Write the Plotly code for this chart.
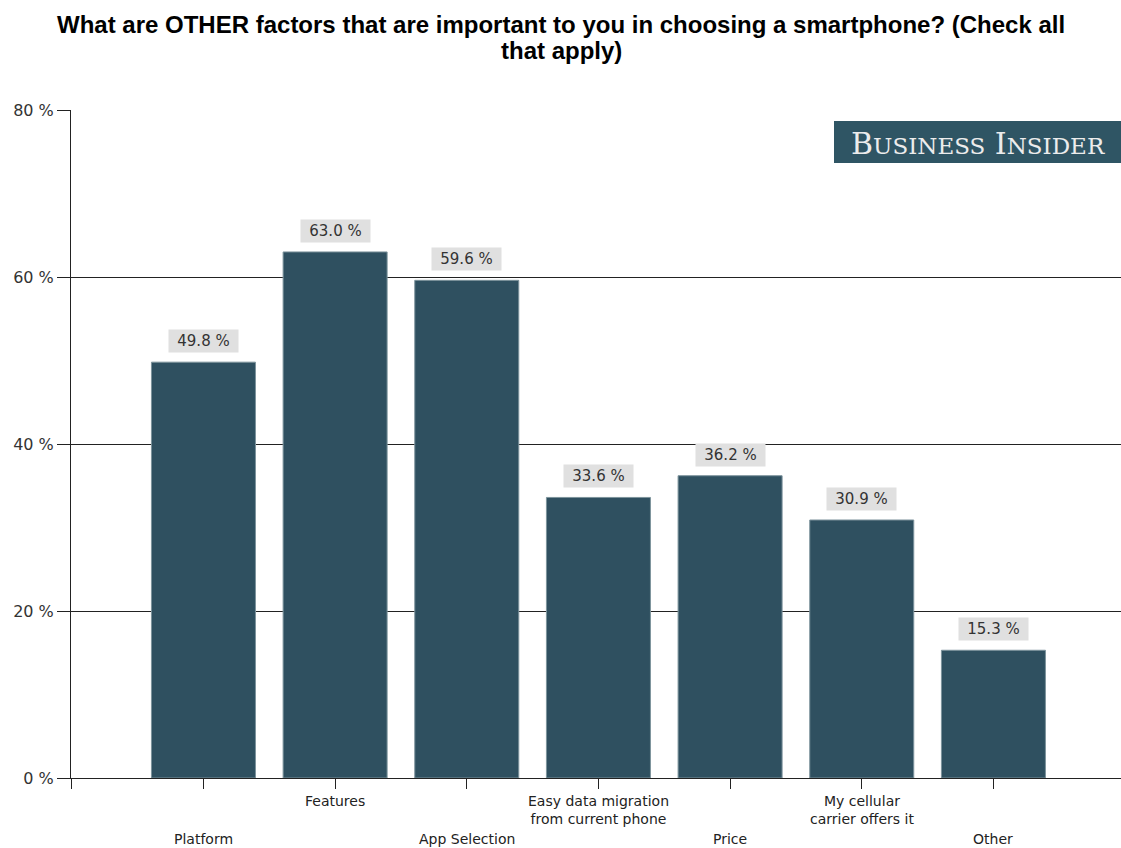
import plotly.graph_objects as go

categories = ["Platform", "Features", "App Selection",
              "Easy data migration<br>from current phone", "Price",
              "My cellular<br>carrier offers it", "Other"]
values = [49.8, 63.0, 59.6, 33.6, 36.2, 30.9, 15.3]
y_ticks = [0, 20, 40, 60, 80]
y_tick_text = ["0 %", "20 %", "40 %", "60 %", "80 %"]
title_lines = ["What are OTHER factors that are important to you in choosing a smartphone? (Check all",
               "that apply)"]

BAR = "#2f5060"
W, H = 1121, 848
ML, MR, MT, MB = 71, 0, 110, 70
plot_w = W - ML - MR
plot_h = H - MT - MB
x = list(range(len(categories)))


def py(px):
    """Convert a pixel row (from top of page) to paper y."""
    return (H - MB - px) / plot_h


def pxx(px):
    """Convert a pixel column to paper x."""
    return (px - ML) / plot_w


fig = go.Figure()
fig.add_trace(go.Bar(
    x=x, y=values, width=0.79,
    marker=dict(color=BAR, line=dict(color="#7d939c", width=1)),
    hoverinfo="skip",
))

annotations = []
# title, two centred lines
for line, row in zip(title_lines, [24, 50]):
    annotations.append(dict(
        x=pxx(561), y=py(row), xref="paper", yref="paper", text=f"<b>{line}</b>",
        showarrow=False, xanchor="center", yanchor="middle",
        font=dict(family="Liberation Sans, Arial", size=24, color="black"),
    ))
# value labels on grey boxes
for i, v in enumerate(values):
    annotations.append(dict(
        x=i, y=v, xref="x", yref="y", text=f"{v:.1f} %",
        showarrow=False, yanchor="bottom", yshift=9,
        width=69, height=22, borderpad=0,
        bgcolor="#e0e0e0",
        font=dict(family="DejaVu Sans", size=15, color="#333333"),
    ))
# staggered category labels
for i, c in enumerate(categories):
    top_px = 791 if i % 2 else 829
    annotations.append(dict(
        x=i, y=py(top_px), xref="x", yref="paper",
        text=c, showarrow=False, yanchor="top", align="center",
        font=dict(family="DejaVu Sans", size=14, color="#222222"),
    ))
# logo
annotations.append(dict(
    x=pxx(978), y=py(143), xref="paper", yref="paper",
    text="B<span style='font-size:23px'>USINESS</span> I<span style='font-size:23px'>NSIDER</span>",
    showarrow=False, xanchor="center", yanchor="middle",
    font=dict(family="DejaVu Serif, Liberation Serif", size=30, color="#ececec"),
))

fig.update_layout(
    width=W, height=H,
    margin=dict(l=ML, r=MR, t=MT, b=MB),
    paper_bgcolor="white", plot_bgcolor="white",
    showlegend=False,
    xaxis=dict(
        range=[-1.006, 6.969], tickvals=[-1.006] + x, ticktext=[""] * 8,
        showgrid=False, zeroline=False, showline=True, linecolor="#222222", linewidth=1,
        ticks="outside", ticklen=10, tickcolor="#222222",
        fixedrange=True,
    ),
    yaxis=dict(
        range=[0, 80], tickvals=y_ticks, ticktext=y_tick_text,
        showgrid=True, gridcolor="#222222", gridwidth=1,
        zeroline=False, showline=True, linecolor="#222222", linewidth=1,
        ticks="outside", ticklen=13, tickcolor="#222222",
        tickfont=dict(family="DejaVu Sans", size=16, color="#333333"),
        fixedrange=True,
    ),
    shapes=[dict(
        type="rect", xref="paper", yref="paper",
        x0=pxx(834), x1=1.0, y0=py(163), y1=py(121),
        fillcolor="#2f5564", line=dict(width=0), layer="above",
    )],
    annotations=annotations,
)

fig.write_html("out.html")
